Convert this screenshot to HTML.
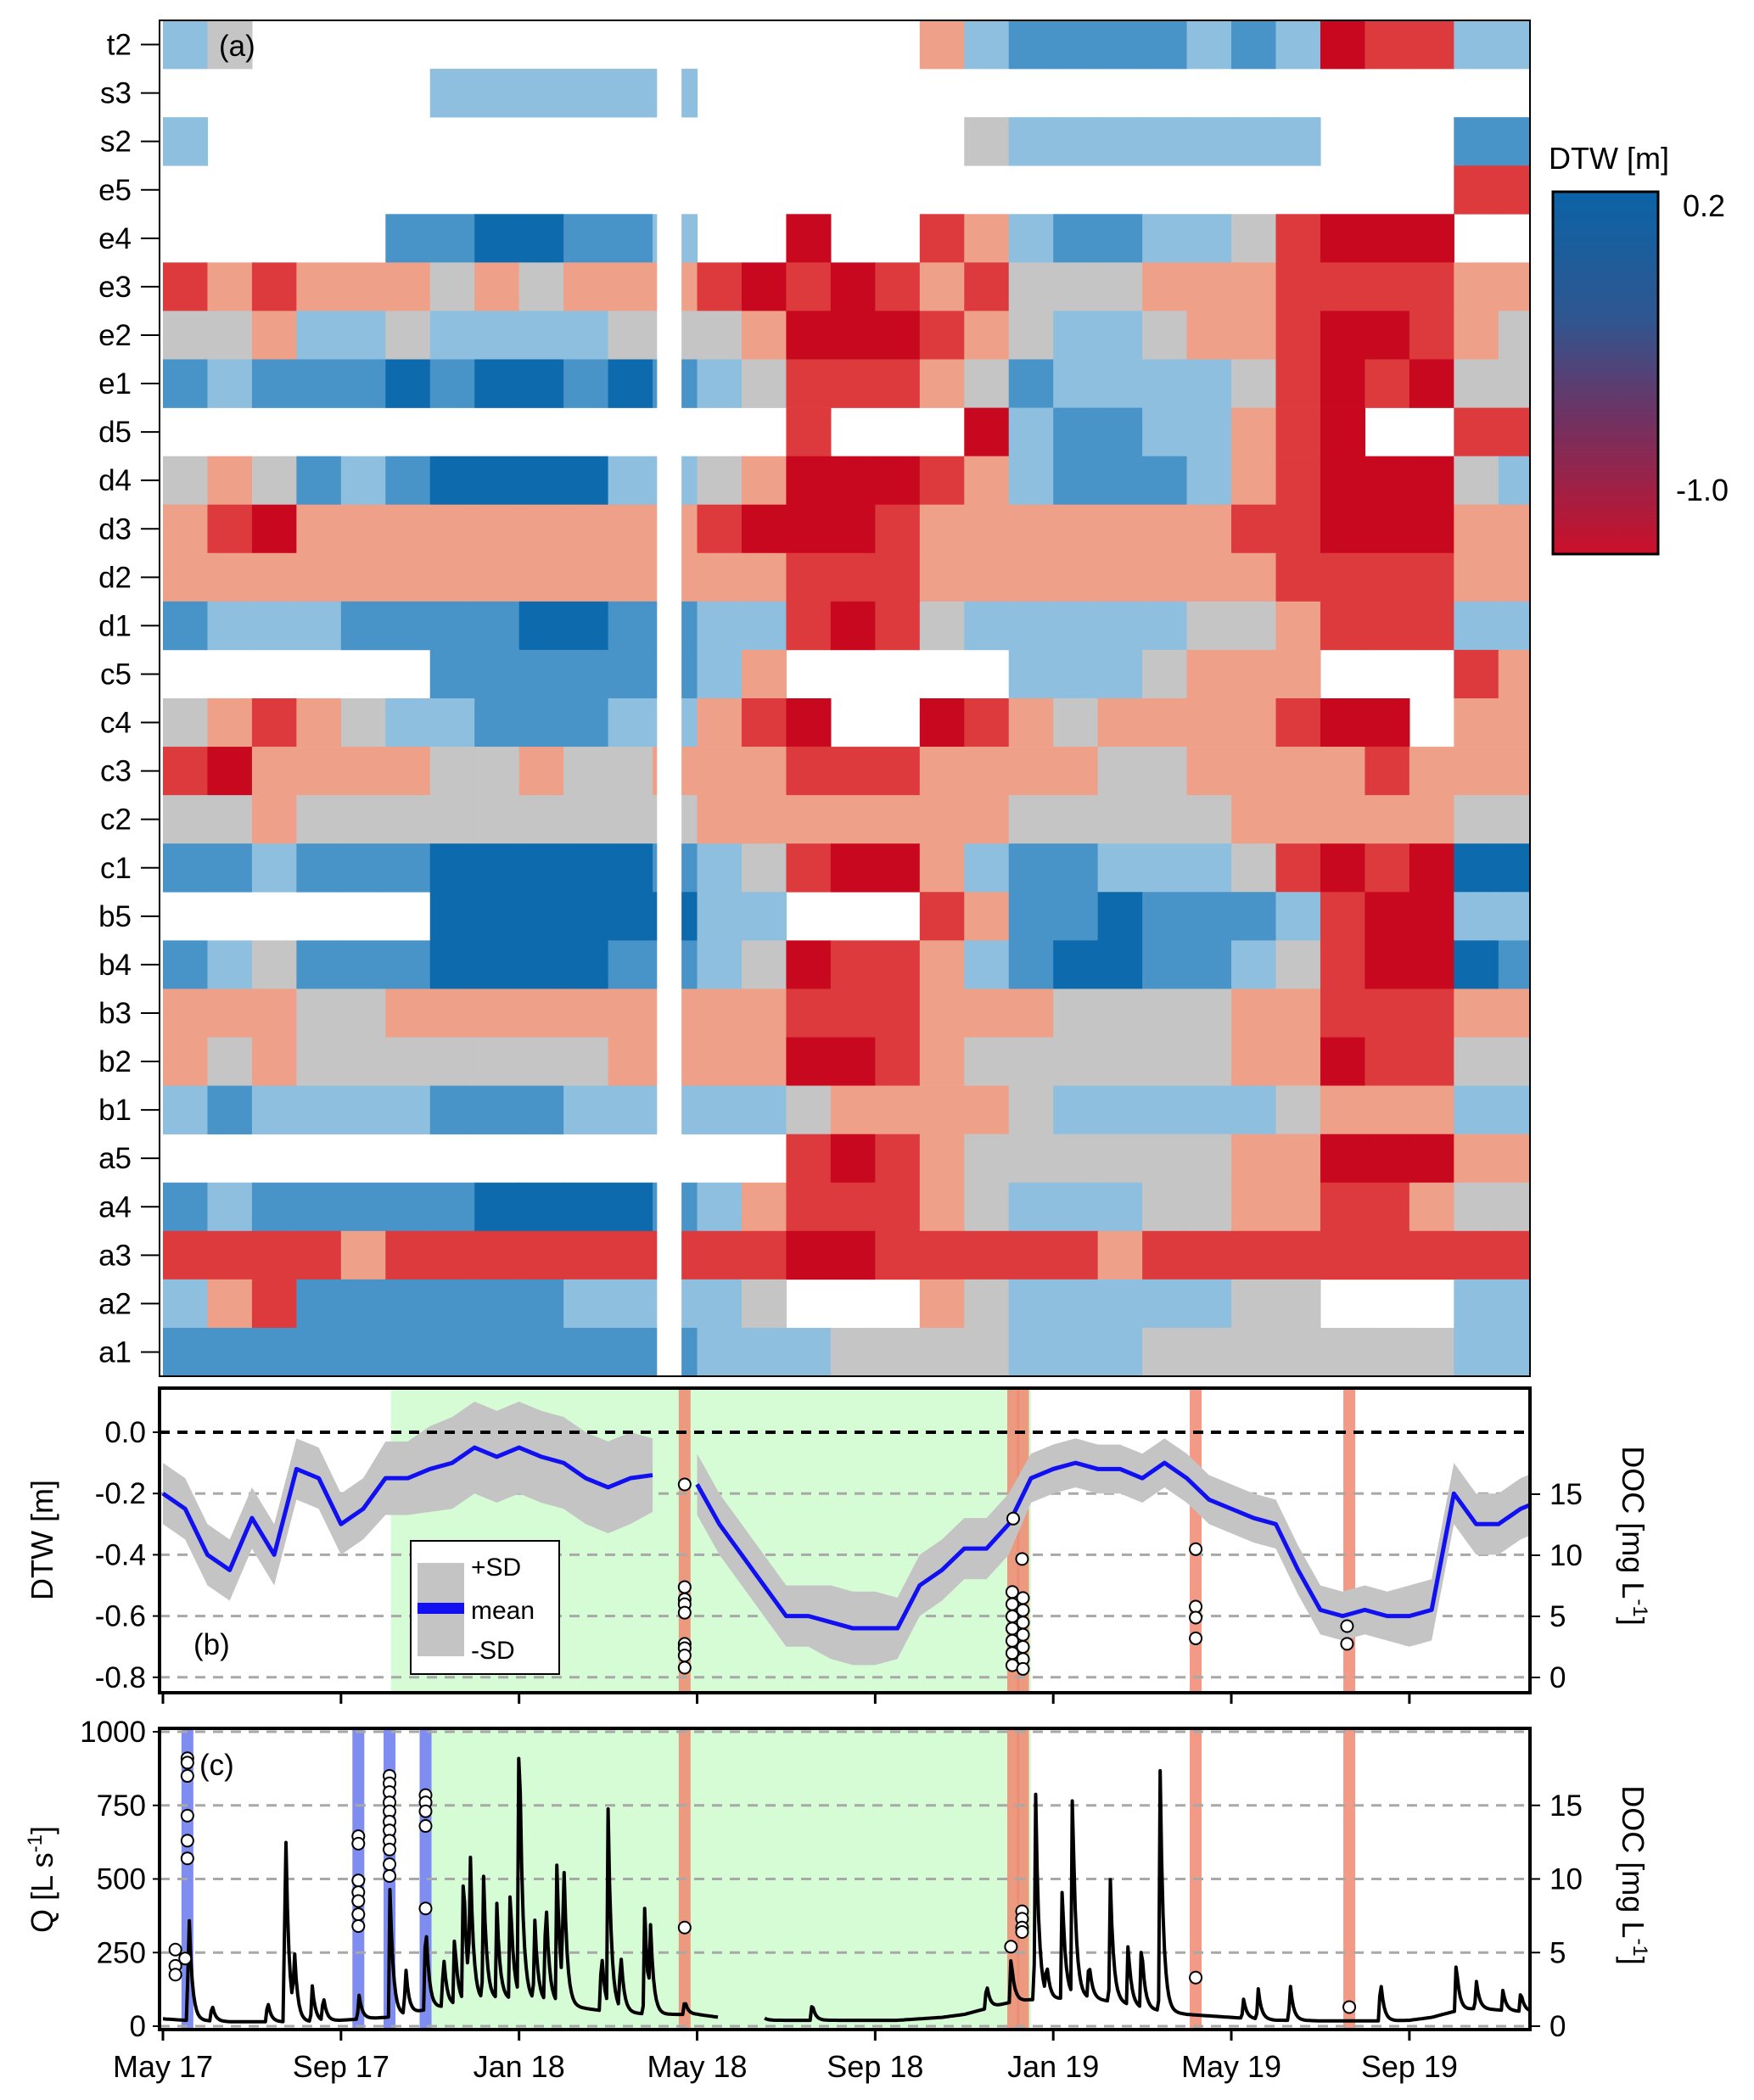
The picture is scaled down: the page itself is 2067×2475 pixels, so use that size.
<!DOCTYPE html>
<html><head><meta charset="utf-8"><style>
html,body{margin:0;padding:0;background:#fff}
svg{display:block;font-family:"Liberation Sans",sans-serif}
</style></head><body>
<svg id="fig" width="2067" height="2475" viewBox="0 0 2067 2475" xmlns="http://www.w3.org/2000/svg">
<defs>
<linearGradient id="cbg" x1="0" y1="0" x2="0" y2="1">
<stop offset="0" stop-color="#0b63a6"/><stop offset="0.35" stop-color="#2f5690"/><stop offset="0.6" stop-color="#6a3566"/><stop offset="1" stop-color="#cc0f2a"/>
</linearGradient>
<clipPath id="clipA"><rect x="188" y="24" width="1615" height="1598"/></clipPath>
<clipPath id="clipB"><rect x="188" y="1636" width="1615" height="359"/></clipPath>
<clipPath id="clipC"><rect x="188" y="2037" width="1615" height="355"/></clipPath>
</defs>
<g id="gA"></g>
<g id="gB"></g>
<g id="gC"></g>
<g id="gAx"></g>
</svg>
<script>
// ---- data ----
const rowNames = ["t2","s3","s2","e5","e4","e3","e2","e1","d5","d4","d3","d2","d1","c5","c4","c3","c2","c1","b5","b4","b3","b2","b1","a5","a4","a3","a2","a1"];
// monthly DTW class codes (0 = -1.0 m ... 6 = 0.2 m, '.' = missing), May17..Nov19
const rowCodes = [
"43...............24555545401144",
"......444444...................",
"4.................34444444...55",
".............................11",
".....5566554..0..124554431000..",
"1212223232221010121333222111122",
"3324434444333200012344322100123",
"5455565665654311123544443101033",
"..............1...045544210..11",
"3235456666443200012455542100034",
"2102222222221000122222221100022",
"2222222222222211122222222111122",
"5444555566554410134444433211144",
"......55555542.....4443222...12",
"321234455544210..01232222100.22",
"1022223323322211122223322221222",
"3323333333332222222333332222233",
"5545556666654310024554443101066",
"......66666644...12556555410044",
"5435556666554301124566554310065",
"2223322222222211122233332211122",
"2323333333222200123333332201133",
"4544445554444432222344444322244",
"..............10123333332200022",
"5455555666654211123444332211233",
"1111211111111100111112111111111",
"42155555544443...234444433...44",
"5555555555554443333444333333344"
];
const gapMonths = [11.1, 11.65];
// panel b: half-monthly mean DTW and SD
const dtwMean = [-0.2,-0.25,-0.4,-0.45,-0.28,-0.4,-0.12,-0.15,-0.3,-0.25,-0.15,-0.15,-0.12,-0.1,-0.05,-0.08,-0.05,-0.08,-0.1,-0.15,-0.18,-0.15,-0.14,null,-0.17,-0.3,-0.4,-0.5,-0.6,-0.6,-0.62,-0.64,-0.64,-0.64,-0.5,-0.45,-0.38,-0.38,-0.3,-0.15,-0.12,-0.1,-0.12,-0.12,-0.15,-0.1,-0.15,-0.22,-0.25,-0.28,-0.3,-0.45,-0.58,-0.6,-0.58,-0.6,-0.6,-0.58,-0.2,-0.3,-0.3,-0.25,-0.22];
const dtwSD = [0.1,0.1,0.1,0.1,0.1,0.1,0.1,0.1,0.1,0.1,0.12,0.12,0.14,0.15,0.15,0.15,0.15,0.15,0.15,0.15,0.15,0.15,0.12,null,0.1,0.1,0.1,0.1,0.1,0.1,0.12,0.12,0.12,0.1,0.1,0.1,0.1,0.1,0.1,0.08,0.08,0.08,0.08,0.08,0.08,0.08,0.08,0.08,0.08,0.08,0.08,0.08,0.08,0.08,0.08,0.08,0.1,0.1,0.1,0.1,0.1,0.1,0.1];
const docBMonths = [11.72,11.72,11.72,11.72,11.72,11.72,11.72,11.72,11.72, 19.1,19.3,19.08,19.08,19.08,19.08,19.08,19.08,19.08,19.32,19.32,19.32,19.32,19.32,19.32,19.32, 23.2,23.2,23.2,23.2, 26.6,26.6];
const docBVals = [15.8,7.4,6.4,6.0,5.3,2.75,2.4,1.8,0.8, 13.0,9.7,7.0,6.0,5.0,4.0,3.0,2.0,1.0,6.5,5.5,4.5,3.5,2.5,1.5,0.7, 10.5,5.8,4.9,3.2, 4.2,2.75];
// panel c: half-monthly baseflow and event peaks
const qBase = [25,20,18,15,15,15,15,15,20,25,30,40,60,70,80,90,90,80,70,60,50,45,40,40,40,30,null,20,20,20,20,20,20,20,25,30,40,60,80,90,90,100,90,80,60,50,40,35,30,25,20,20,18,18,18,18,20,30,50,60,55,50];
const peakMonths = [0.58,1.1,2.35,2.75,2.95,3.35,3.6,4.4,5.1,5.45,5.9,6.3,6.55,6.75,6.9,7.2,7.5,7.8,8.0,8.35,8.6,8.85,9.0,9.85,10.0,10.28,10.82,10.95,11.72,13.28,14.58,18.5,19.05,19.6,19.85,20.2,20.43,20.8,21.28,21.68,21.98,22.4,24.27,24.6,25.32,27.35,29.05,29.5,30.1,30.5];
const peakQ = [400,60,75,730,220,130,90,90,450,170,330,190,240,480,490,440,320,390,990,290,390,480,480,220,660,210,370,260,50,200,60,90,160,750,110,390,700,130,430,210,230,830,70,110,130,150,170,100,70,70];
const docCMonths = [0.55,0.55,0.55,0.55,0.55,0.55,0.28,0.28,0.28,0.5, 4.39,4.39,4.39,4.39,4.39,4.39,4.39, 5.09,5.09,5.09,5.09,5.09,5.09,5.09,5.09,5.09,5.09,5.09, 5.9,5.9,5.9,5.9,5.9, 11.72, 19.05,19.3,19.3,19.3,19.3, 23.2, 26.65];
const docCVals = [18.2,17.9,17.0,14.3,12.6,11.4,5.2,4.1,3.5,4.6, 12.9,12.4,9.9,9.1,8.5,7.6,6.8, 17.0,16.5,15.9,15.2,14.6,13.9,13.3,12.6,12.0,11.0,10.2, 15.7,15.2,14.6,13.6,8.0, 6.7, 5.4,7.8,7.3,6.7,6.4, 3.3, 1.3];
const greenB = [5.12,19.5], greenC = [6.0,19.5];
const redBars = [11.72,19.1,19.32,23.2,26.65];
const blueBars = [0.55,4.39,5.09,5.9];
const xTickLabels = ["May 17","Sep 17","Jan 18","May 18","Sep 18","Jan 19","May 19","Sep 19"];
const dtwTicks = [0.0,-0.2,-0.4,-0.6,-0.8];
const docTicks = [0,5,10,15];
const qTicks = [0,250,500,750,1000];

// ---- scales ----
const L=188,R=1803;
const X = m => 192 + m*52.46;
const rowTop=24,rowH=(1622-24)/28;
const yB = v => 1688 - v*361;
const yDb = d => 1977 - d*14.4;
const yQ = q => 2388 - q*0.347;
const yDc = d => 2388 - d*17.35;
const codeColor = ["#c8081e","#dd3a3e","#efa089","#c5c5c5","#8fbfde","#4893c8","#0c6aad"];
const NS="http://www.w3.org/2000/svg";
function mk(tag, attrs, parent){const e=document.createElementNS(NS,tag);for(const k in attrs)e.setAttribute(k,attrs[k]);parent.appendChild(e);return e;}
const gA=document.getElementById('gA'),gB=document.getElementById('gB'),gC=document.getElementById('gC'),gAx=document.getElementById('gAx');

// ---- panel a ----
const hc=mk('g',{'clip-path':'url(#clipA)'},gA);
rowCodes.forEach((s,r)=>{
  for(let c=0;c<s.length;c++){
    const ch=s[c]; if(ch==='.')continue;
    const v=-1.0+parseInt(ch)*0.2;
    const code=Math.round((v+1.0)/0.2);
    const el=mk('rect',{x:X(c),y:rowTop+r*rowH,width:52.46+0.6,height:rowH+0.3,fill:codeColor[code]},hc);
    
    
  }
});
mk('rect',{x:X(gapMonths[0]),y:rowTop,width:X(gapMonths[1])-X(gapMonths[0]),height:28*rowH,fill:'#fff'},hc);
mk('rect',{x:L,y:24,width:R-L,height:1598,fill:'none',stroke:'#000','stroke-width':2},gA);
rowNames.forEach((n,r)=>{
  const y=rowTop+(r+0.5)*rowH;
  const t=mk('text',{x:155,y:y+12,'text-anchor':'end','font-size':35},gA); t.textContent=n;
  
  
  mk('line',{x1:166,x2:188,y1:y,y2:y,stroke:'#000','stroke-width':2},gA);
});
let ta=mk('text',{x:258,y:66,'font-size':35},gA); ta.textContent='(a)';


// colorbar
let ct=mk('text',{x:1825,y:199,'font-size':36},gA); ct.textContent='DTW [m]';


let cb=mk('rect',{x:1830,y:226,width:124,height:427,fill:'url(#cbg)',stroke:'#000','stroke-width':3},gA);


let c1=mk('text',{x:1983,y:255,'font-size':36},gA); c1.textContent='0.2';
let c2=mk('text',{x:1975,y:590,'font-size':36},gA); c2.textContent='-1.0';

// ---- panel b ----
const bc=mk('g',{'clip-path':'url(#clipB)'},gB);
let gb=mk('rect',{x:X(greenB[0]),y:1636,width:X(greenB[1])-X(greenB[0]),height:359,fill:'#d6fcd6'},bc);


redBars.forEach(m=>{const e=mk('rect',{x:X(m)-7,y:1636,width:14,height:359,fill:'#f08870','opacity':0.85},bc);
  
  });
[-0.2,-0.4,-0.6,-0.8].forEach(v=>mk('line',{x1:L,x2:R,y1:yB(v),y2:yB(v),stroke:'#a8a8a8','stroke-width':3,'stroke-dasharray':'12 9'},bc));
function segs(arr){const out=[];let cur=[];arr.forEach((v,i)=>{if(v===null){if(cur.length)out.push(cur);cur=[];}else cur.push(i);});if(cur.length)out.push(cur);return out;}
segs(dtwMean).forEach(idx=>{
  const up=idx.map(i=>X(i/2)+','+yB(dtwMean[i]+dtwSD[i]));
  const lo=idx.slice().reverse().map(i=>X(i/2)+','+yB(dtwMean[i]-dtwSD[i]));
  const band=mk('polygon',{points:up.concat(lo).join(' '),fill:'#c4c4c4'},bc);
  
  
});
mk('line',{x1:L,x2:R,y1:yB(0),y2:yB(0),stroke:'#000','stroke-width':4,'stroke-dasharray':'12 9'},bc);
segs(dtwMean).forEach(idx=>{
  const p=mk('polyline',{points:idx.map(i=>X(i/2)+','+yB(dtwMean[i])).join(' '),fill:'none',stroke:'#1010f0','stroke-width':5,'stroke-linejoin':'round'},bc);
  
  
});
docBMonths.forEach((m,i)=>{const c=mk('circle',{cx:X(m),cy:yDb(docBVals[i]),r:7,fill:'#fff',stroke:'#000','stroke-width':2},gB);
  
  });
mk('rect',{x:L,y:1636,width:R-L,height:359,fill:'none',stroke:'#000','stroke-width':4},gB);
const lg=mk('g',{},gB);


mk('rect',{x:484,y:1816,width:175,height:157,fill:'#fff',stroke:'#000','stroke-width':2},lg);
mk('rect',{x:492,y:1842,width:55,height:110,fill:'#c4c4c4'},lg);
mk('rect',{x:492,y:1889,width:55,height:13,fill:'#1010f0'},lg);
[['+SD',1857],['mean',1908],['-SD',1955]].forEach(a=>{const t=mk('text',{x:555,y:a[1],'font-size':30},lg);t.textContent=a[0];
  
  });
let tb=mk('text',{x:228,y:1950,'font-size':35},gB); tb.textContent='(b)';
dtwTicks.forEach(v=>{const t=mk('text',{x:172,y:yB(v)+12,'text-anchor':'end','font-size':35},gB);t.textContent=v.toFixed(1);
  
  
  mk('line',{x1:180,x2:188,y1:yB(v),y2:yB(v),stroke:'#000','stroke-width':2},gB);});
docTicks.forEach(d=>{const t=mk('text',{x:1826,y:yDb(d)+12,'font-size':35},gB);t.textContent=d;
  
  
  mk('line',{x1:1803,x2:1815,y1:yDb(d),y2:yDb(d),stroke:'#000','stroke-width':2},gB);});
let yb=mk('text',{transform:'translate(62,1815) rotate(-90)','text-anchor':'middle','font-size':36},gB); yb.textContent='DTW [m]';


let yr=mk('text',{transform:'translate(1912,1810) rotate(90)','text-anchor':'middle','font-size':36},gB);
yr.innerHTML='DOC [mg L<tspan baseline-shift="super" font-size="24">-1</tspan>]';


for(let k=0;k<xTickLabels.length;k++) mk('line',{x1:X(4*k),x2:X(4*k),y1:1995,y2:2008,stroke:'#000','stroke-width':3},gB);

// ---- panel c ----
const ccl=mk('g',{'clip-path':'url(#clipC)'},gC);
let gc=mk('rect',{x:X(greenC[0]),y:2037,width:X(greenC[1])-X(greenC[0]),height:355,fill:'#d6fcd6'},ccl);


blueBars.forEach(m=>{const e=mk('rect',{x:X(m)-7,y:2037,width:14,height:355,fill:'#7f8cf0'},ccl);
  
  });
redBars.forEach(m=>{const e=mk('rect',{x:X(m)-7,y:2037,width:14,height:355,fill:'#f08870','opacity':0.85},ccl);
  
  });
qTicks.forEach(q=>mk('line',{x1:L,x2:R,y1:yQ(q),y2:yQ(q),stroke:'#a8a8a8','stroke-width':3,'stroke-dasharray':'12 9'},ccl));
let pts=[],lines=[];
for(let d=0;d<=31*30.4;d+=1){
  const m=d/30.4; const bi=m*2; const i0=Math.floor(bi), i1=Math.min(i0+1,qBase.length-1);
  let b0=qBase[Math.min(i0,qBase.length-1)], b1=qBase[i1];
  if(b0===null||b1===null){if(pts.length)lines.push(pts);pts=[];continue;}
  let q=b0+(b1-b0)*(bi-i0);
  peakMonths.forEach((pm,k)=>{const dt=(m-pm)*30.4; if(dt>=-1&&dt<0)q+=peakQ[k]*(1+dt); else if(dt>=0)q+=peakQ[k]*Math.exp(-dt/2.2);});
  pts.push(X(m).toFixed(1)+','+yQ(Math.min(q,1005)).toFixed(1));
}
if(pts.length)lines.push(pts);
lines.forEach(p=>{const e=mk('polyline',{points:p.join(' '),fill:'none',stroke:'#000','stroke-width':4,'stroke-linejoin':'round'},ccl);
  
  });
docCMonths.forEach((m,i)=>{const c=mk('circle',{cx:X(m),cy:yDc(docCVals[i]),r:7,fill:'#fff',stroke:'#000','stroke-width':2},gC);
  
  });
mk('rect',{x:L,y:2037,width:R-L,height:355,fill:'none',stroke:'#000','stroke-width':4},gC);
let tc=mk('text',{x:235,y:2092,'font-size':35},gC); tc.textContent='(c)';
qTicks.forEach(q=>{const t=mk('text',{x:172,y:yQ(q)+12,'text-anchor':'end','font-size':35},gC);t.textContent=q;
  
  
  mk('line',{x1:180,x2:188,y1:yQ(q),y2:yQ(q),stroke:'#000','stroke-width':2},gC);});
docTicks.forEach(d=>{const t=mk('text',{x:1826,y:yDc(d)+12,'font-size':35},gC);t.textContent=d;
  
  
  mk('line',{x1:1803,x2:1815,y1:yDc(d),y2:yDc(d),stroke:'#000','stroke-width':2},gC);});
let yq=mk('text',{transform:'translate(62,2215) rotate(-90)','text-anchor':'middle','font-size':36},gC);
yq.innerHTML='Q [L s<tspan baseline-shift="super" font-size="24">-1</tspan>]';


let yr2=mk('text',{transform:'translate(1912,2210) rotate(90)','text-anchor':'middle','font-size':36},gC);
yr2.innerHTML='DOC [mg L<tspan baseline-shift="super" font-size="24">-1</tspan>]';


xTickLabels.forEach((s,k)=>{
  mk('line',{x1:X(4*k),x2:X(4*k),y1:2392,y2:2405,stroke:'#000','stroke-width':3},gAx);
  const t=mk('text',{x:X(4*k),y:2448,'text-anchor':'middle','font-size':36},gAx); t.textContent=s;
  
  
});
</script>
</body></html>
